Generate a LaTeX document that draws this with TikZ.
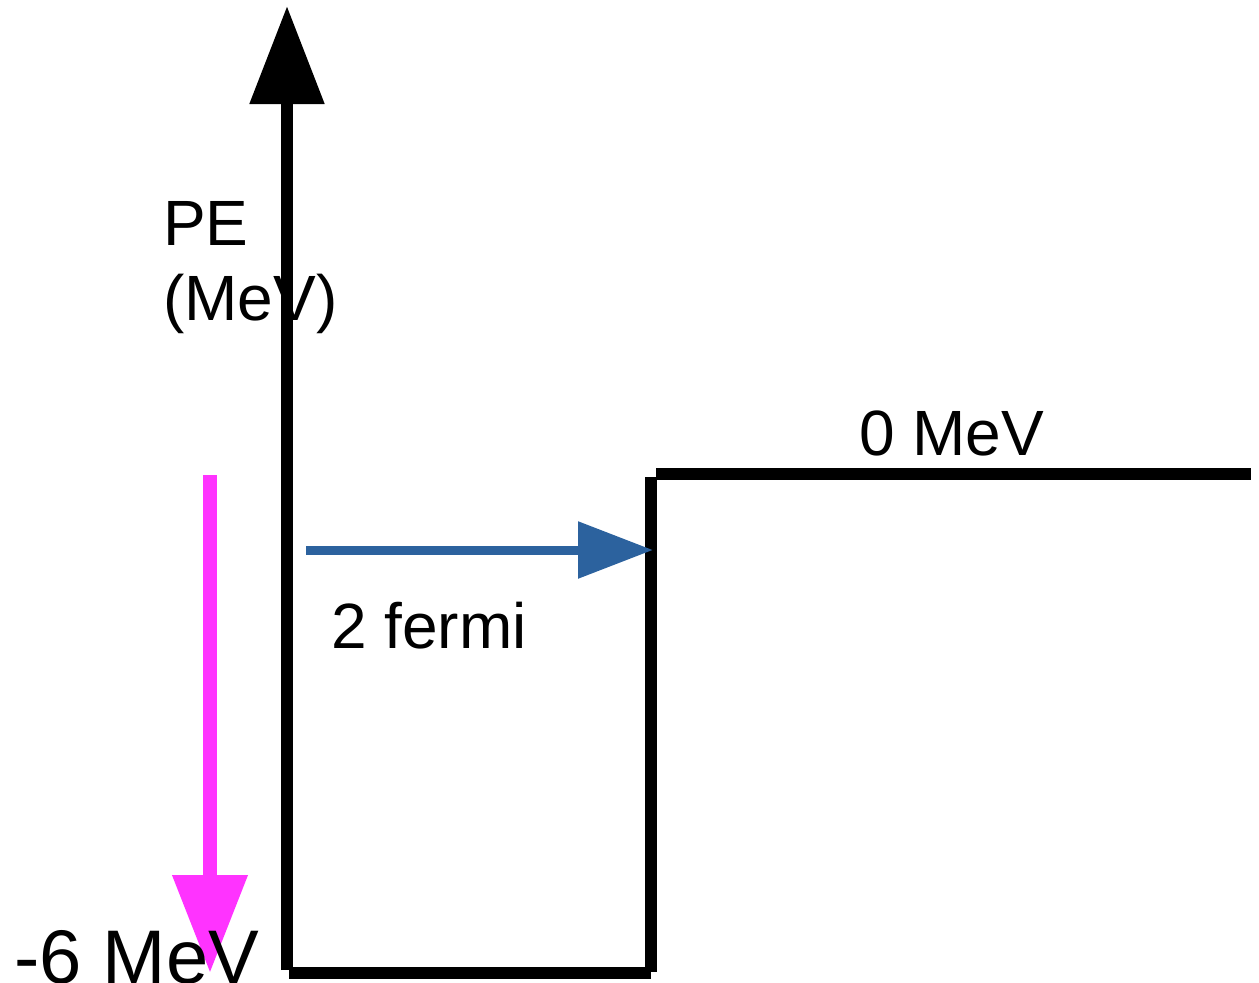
\documentclass[tikz,border=0pt]{standalone}
\usepackage{fontspec}
\setmainfont{Liberation Sans}
\usetikzlibrary{arrows.meta}
\definecolor{arrowblue}{RGB}{44,98,158}
\definecolor{pinkarrow}{RGB}{255,51,255}
\begin{document}
\begin{tikzpicture}[x=1pt,y=-1pt,
  wall/.style={line width=12pt,black},
  lbl/.style={inner sep=0pt,anchor=base west,font=\fontsize{64}{76}\selectfont},
  bigarrow/.style={-{Triangle[length=98pt,width=72pt]}}]
\useasboundingbox (0,0) rectangle (1259,983);
% coordinates
\coordinate (axbot) at (287,970);
\coordinate (axtop) at (287,6);
\coordinate (bl) at (289,973);
\coordinate (br) at (651,973);
\coordinate (rb) at (651,972);
\coordinate (rt) at (651,477);
\coordinate (tl) at (656,474);
\coordinate (tr) at (1251,474);
\coordinate (bstart) at (306,550);
\coordinate (bend) at (653,550);
\coordinate (pstart) at (210,475);
\coordinate (pend) at (210,973);
% potential well
\draw[wall,bigarrow] (axbot) -- (axtop);
\draw[wall] (bl) -- (br);
\draw[wall] (rb) -- (rt);
\draw[wall] (tl) -- (tr);
% arrows
\draw[line width=9pt,arrowblue,-{Triangle[length=75pt,width=55pt]}] (bstart) -- (bend);
\draw[line width=14pt,pinkarrow,bigarrow] (pstart) -- (pend);
% labels
\node[lbl] (pe) at (163,245) {PE};
\node[lbl] (mev) at (163,320) {(MeV)};
\node[lbl] (zero) at (859,455) {0 MeV};
\node[lbl] (fermi) at (331,648) {2 fermi};
\node[lbl,font=\fontsize{76}{90}\selectfont] (six) at (14,983) {-6 MeV};
\end{tikzpicture}
\end{document}
